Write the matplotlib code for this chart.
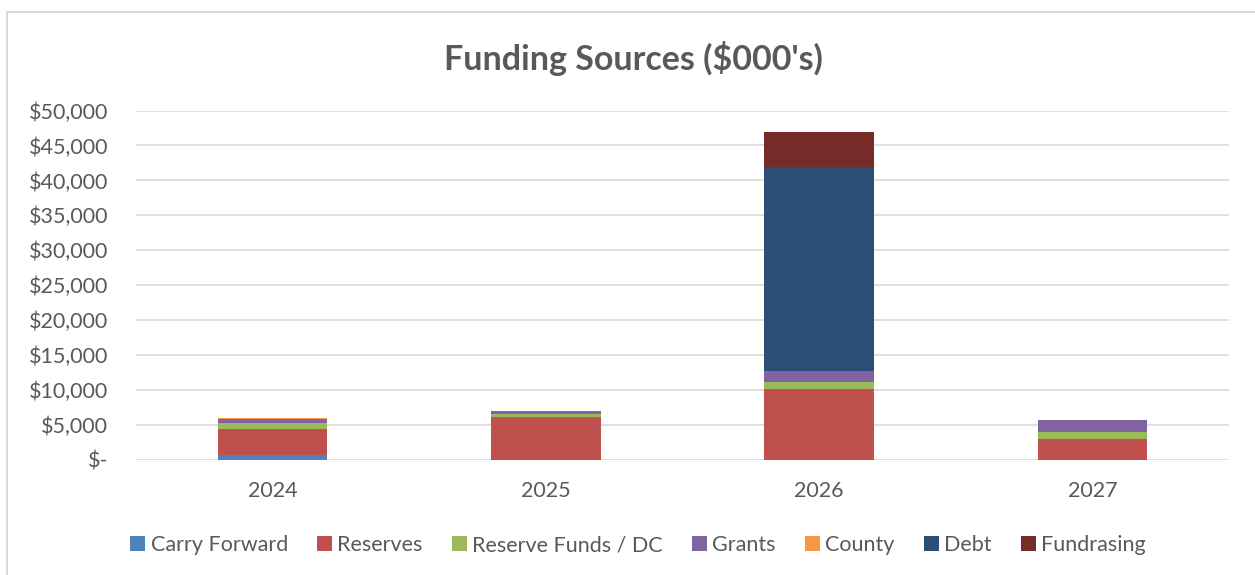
import matplotlib
matplotlib.use("Agg")
import matplotlib.pyplot as plt
from matplotlib.patches import Rectangle
from matplotlib.ticker import FuncFormatter
import numpy as np

plt.rcParams['font.family'] = ['Lato', 'DejaVu Sans']

years = ["2024", "2025", "2026", "2027"]
carry_forward = [700, 0, 0, 0]
reserves = [3700, 6100, 10150, 3050]
reserve_funds_dc = [900, 450, 1000, 1000]
grants = [550, 500, 1550, 1650]
county = [150, 0, 0, 0]
debt = [0, 0, 29200, 0]
fundraising = [0, 0, 5000, 0]

series = [
    ("Carry Forward", carry_forward, "#4F81BD"),
    ("Reserves", reserves, "#C0504D"),
    ("Reserve Funds / DC", reserve_funds_dc, "#9BBB59"),
    ("Grants", grants, "#8064A2"),
    ("County", county, "#F79646"),
    ("Debt", debt, "#2C4D75"),
    ("Fundrasing", fundraising, "#772C2A"),
]

W, H = 1255, 575
fig = plt.figure(figsize=(W / 100, H / 100), dpi=100)

# chart frame
fig.patches.append(Rectangle((7 / W, -0.05), 1.1, 1 - 12 / H + 0.05,
                             transform=fig.transFigure, fill=False,
                             edgecolor="#D9D9D9", linewidth=1.5))

ax = fig.add_axes([136 / W, 1 - 460 / H, (1229 - 136) / W, (460 - 110.5) / H])

x = np.arange(len(years))
bottom = np.zeros(len(years))
handles = []
for name, vals, color in series:
    v = np.array(vals, dtype=float)
    b = ax.bar(x, v, width=0.40, bottom=bottom, color=color, label=name,
               zorder=3, linewidth=0)
    bottom += v
    handles.append(b)

ax.set_xlim(-0.5, len(years) - 0.5)
ax.set_ylim(0, 50000)
ax.set_yticks(np.arange(0, 50001, 5000))


def fmt(v, _):
    return "$-" if v == 0 else f"${v:,.0f}"


ax.yaxis.set_major_formatter(FuncFormatter(fmt))
ax.grid(axis="y", color="#D9D9D9", linewidth=1.2, zorder=0)
for s in ax.spines.values():
    s.set_visible(False)
ax.tick_params(axis="both", length=0, labelsize=15.5, labelcolor="#595959")
ax.tick_params(axis="y", pad=20)
ax.tick_params(axis="x", pad=15)
ax.set_xticks(x)
ax.set_xticklabels(years)

fig.text(633 / W, 1 - 58 / H, "Funding Sources ($000's)", ha="center",
         va="center", fontsize=24.5, fontweight="bold", color="#595959")

leg = fig.legend(handles=handles, loc="center", bbox_to_anchor=(638 / W, 1 - 545 / H),
                 ncol=7, frameon=False, fontsize=15.5, labelcolor="#595959",
                 handlelength=0.7, handleheight=0.7, handletextpad=0.25,
                 columnspacing=1.35)

fig.savefig("out.png", dpi=100, facecolor="white")
